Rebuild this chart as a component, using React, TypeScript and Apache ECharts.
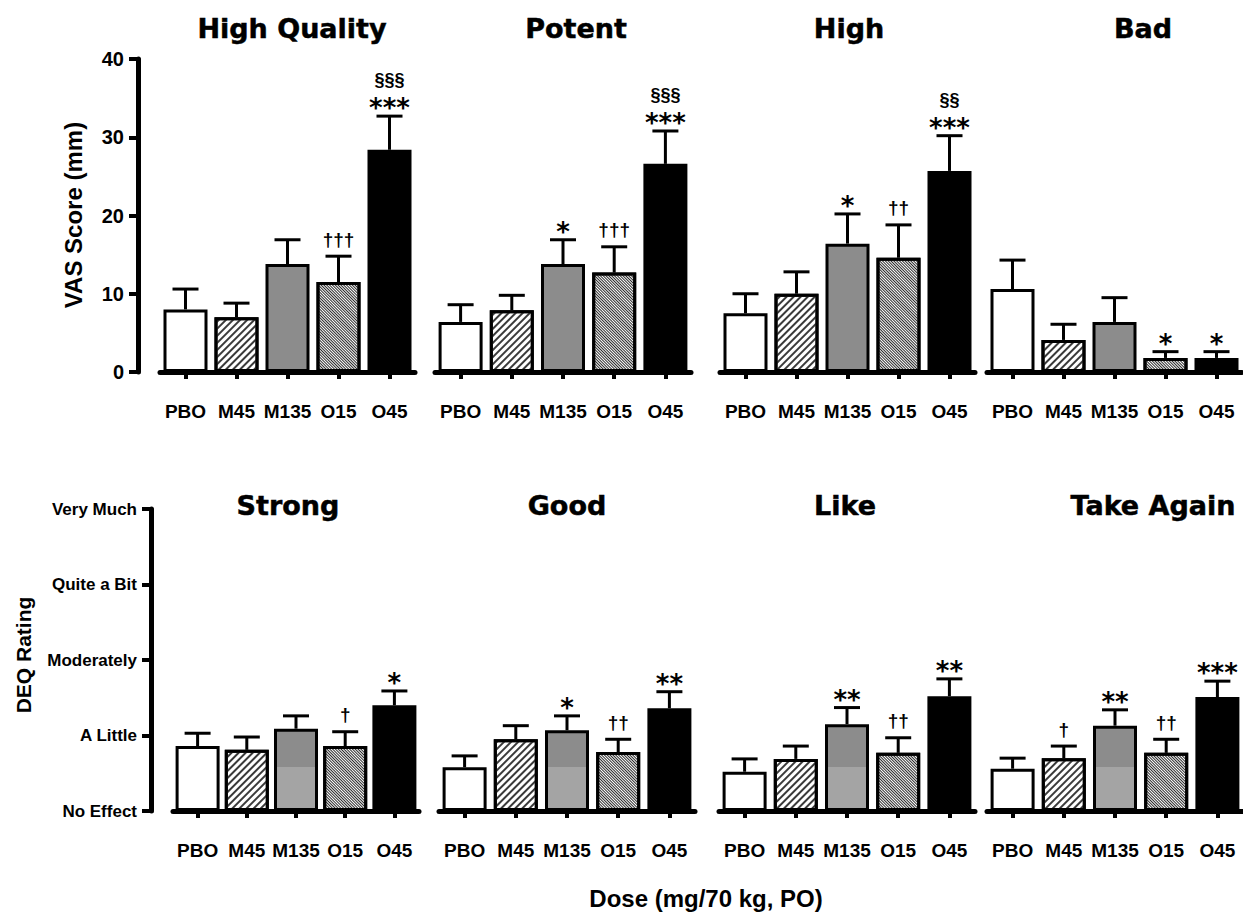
import React, { useEffect, useRef } from 'react';
import * as echarts from 'echarts';

const categories = ['PBO', 'M45', 'M135', 'O15', 'O45'];

const vasTicks = [0, 10, 20, 30, 40];
const deqTickLabels = ['No Effect', 'A Little', 'Moderately', 'Quite a Bit', 'Very Much'];

const highQualityMean = [8.0, 7.0, 13.8, 11.5, 28.4];
const highQualitySem = [2.6, 1.8, 3.1, 3.3, 4.3];
const highQualityMarks = ['', '', '', '†††', '***'];
const highQualitySections = ['', '', '', '', '§§§'];

const potentMean = [6.4, 7.9, 13.8, 12.7, 26.6];
const potentSem = [2.2, 1.9, 3.1, 3.3, 4.2];
const potentMarks = ['', '', '*', '†††', '***'];
const potentSections = ['', '', '', '', '§§§'];

const highMean = [7.5, 10.0, 16.4, 14.6, 25.7];
const highSem = [2.5, 2.8, 3.8, 4.2, 4.5];
const highMarks = ['', '', '*', '††', '***'];
const highSections = ['', '', '', '', '§§'];

const badMean = [10.6, 4.1, 6.4, 1.8, 1.8];
const badSem = [3.7, 2.0, 3.1, 0.8, 0.8];
const badMarks = ['', '', '', '*', '*'];
const badSections = ['', '', '', '', ''];

const strongMean = [0.86, 0.81, 1.09, 0.86, 1.40];
const strongSem = [0.17, 0.17, 0.17, 0.19, 0.19];
const strongMarks = ['', '', '', '†', '*'];

const goodMean = [0.58, 0.95, 1.07, 0.78, 1.36];
const goodSem = [0.15, 0.18, 0.19, 0.17, 0.22];
const goodMarks = ['', '', '*', '††', '**'];

const likeMean = [0.52, 0.69, 1.15, 0.77, 1.52];
const likeSem = [0.17, 0.17, 0.22, 0.20, 0.23];
const likeMarks = ['', '', '**', '††', '**'];

const takeAgainMean = [0.56, 0.70, 1.13, 0.77, 1.51];
const takeAgainSem = [0.14, 0.16, 0.21, 0.18, 0.21];
const takeAgainMarks = ['', '†', '**', '††', '***'];

const emptyMarks = ['', '', '', '', ''];

type Panel = {
  title: string;
  mean: number[];
  sem: number[];
  marks: string[];
  sections: string[];
  row: 0 | 1;
};

const panels: Panel[] = [
  { title: 'High Quality', mean: highQualityMean, sem: highQualitySem, marks: highQualityMarks, sections: highQualitySections, row: 0 },
  { title: 'Potent', mean: potentMean, sem: potentSem, marks: potentMarks, sections: potentSections, row: 0 },
  { title: 'High', mean: highMean, sem: highSem, marks: highMarks, sections: highSections, row: 0 },
  { title: 'Bad', mean: badMean, sem: badSem, marks: badMarks, sections: badSections, row: 0 },
  { title: 'Strong', mean: strongMean, sem: strongSem, marks: strongMarks, sections: emptyMarks, row: 1 },
  { title: 'Good', mean: goodMean, sem: goodSem, marks: goodMarks, sections: emptyMarks, row: 1 },
  { title: 'Like', mean: likeMean, sem: likeSem, marks: likeMarks, sections: emptyMarks, row: 1 },
  { title: 'Take Again', mean: takeAgainMean, sem: takeAgainSem, marks: takeAgainMarks, sections: emptyMarks, row: 1 },
];

// layout (pixels)
const gridBoxes = [
  { left: 160, width: 255 },
  { left: 435, width: 256 },
  { left: 720, width: 255 },
  { left: 987, width: 255 },
  { left: 173, width: 246 },
  { left: 439, width: 256 },
  { left: 719, width: 256 },
  { left: 987, width: 256 },
];
const rowTop = [59, 509];
const rowHeight = [313, 302];
const titlePos = [
  [292, 28], [576, 28], [849, 28], [1143, 28],
  [288, 505], [567, 505], [845, 505], [1153, 505],
];

const LABEL_FONT = '"Liberation Sans", Arial, sans-serif';
const TITLE_FONT = '"DejaVu Sans", sans-serif';

const m45Decal = {
  symbol: 'rect',
  symbolSize: 1,
  color: '#3a3a3a',
  dashArrayX: [1, 0],
  dashArrayY: [2, 3],
  rotation: -Math.PI / 4,
};
const o15Decal = {
  symbol: 'rect',
  symbolSize: 1,
  color: '#2a2a2a',
  dashArrayX: [1, 0],
  dashArrayY: [1, 1],
  rotation: Math.PI / 4,
};

function grayFill(row: number) {
  if (row === 0) return '#8c8c8c';
  const cut = 767 / 917;
  return {
    type: 'linear',
    x: 0,
    y: 0,
    x2: 0,
    y2: 917,
    global: true,
    colorStops: [
      { offset: 0, color: '#8c8c8c' },
      { offset: cut, color: '#8c8c8c' },
      { offset: cut, color: '#a4a4a4' },
      { offset: 1, color: '#a4a4a4' },
    ],
  };
}

function barItemStyle(i: number, row: number) {
  const base = { borderColor: '#000', borderWidth: 3 };
  if (i === 0) return { ...base, color: '#fff' };
  if (i === 1) return { ...base, color: '#fff', decal: m45Decal };
  if (i === 2) return { ...base, color: grayFill(row) };
  if (i === 3) return { ...base, color: '#fff', decal: o15Decal };
  return { ...base, color: '#000' };
}

export default function App() {
  const ref = useRef<HTMLDivElement>(null);

  useEffect(() => {
    if (!ref.current) return;
    const chart = echarts.init(ref.current, undefined, { renderer: 'svg' });

    const grid = panels.map((p, k) => ({
      left: gridBoxes[k].left,
      width: gridBoxes[k].width,
      top: rowTop[p.row],
      height: rowHeight[p.row],
      containLabel: false,
    }));

    const xAxis = panels.map((p, k) => ({
      type: 'category',
      gridIndex: k,
      data: categories,
      offset: 20,
      axisLine: { show: true, lineStyle: { color: '#000', width: 5 } },
      axisTick: { show: true, alignWithLabel: true, length: 7, lineStyle: { color: '#000', width: 4 } },
      axisLabel: {
        margin: 10,
        color: '#000',
        fontSize: 19,
        fontWeight: 'bold',
        fontFamily: LABEL_FONT,
        interval: 0,
      },
      splitLine: { show: false },
    }));

    const yAxis = panels.map((p, k) => {
      const showAxis = k === 0 || k === 4;
      if (p.row === 0) {
        return {
          type: 'value',
          gridIndex: k,
          min: vasTicks[0],
          max: vasTicks[vasTicks.length - 1],
          interval: 10,
          show: showAxis,
          offset: 22,
          axisLine: { show: true, lineStyle: { color: '#000', width: 5 } },
          axisTick: { show: true, length: 9, lineStyle: { color: '#000', width: 4 } },
          axisLabel: {
            margin: 14,
            color: '#000',
            fontSize: 20,
            fontWeight: 'bold',
            fontFamily: LABEL_FONT,
          },
          splitLine: { show: false },
        };
      }
      return {
        type: 'value',
        gridIndex: k,
        min: 0,
        max: deqTickLabels.length - 1,
        interval: 1,
        show: showAxis,
        offset: 22,
        axisLine: { show: true, lineStyle: { color: '#000', width: 5 } },
        axisTick: { show: true, length: 9, lineStyle: { color: '#000', width: 4 } },
        axisLabel: {
          margin: 14,
          color: '#000',
          fontSize: 17,
          fontWeight: 'bold',
          fontFamily: LABEL_FONT,
          formatter: (v: number) => deqTickLabels[Math.round(v)] ?? '',
        },
        splitLine: { show: false },
      };
    });

    const series: any[] = [];
    panels.forEach((p, k) => {
      series.push({
        type: 'bar',
        xAxisIndex: k,
        yAxisIndex: k,
        barWidth: 44,
        z: 2,
        data: p.mean.map((v, i) => ({ value: v, itemStyle: barItemStyle(i, p.row) })),
      });
      series.push({
        type: 'custom',
        xAxisIndex: k,
        yAxisIndex: k,
        z: 5,
        data: p.mean.map((v, i) => [i, v, p.sem[i]]),
        renderItem: (params: any, api: any) => {
          const idx = params.dataIndex;
          const i = api.value(0);
          const m = api.value(1);
          const s = api.value(2);
          const b = api.coord([i, m]);
          const t = api.coord([i, m + s]);
          const children: any[] = [
            { type: 'line', shape: { x1: b[0], y1: b[1], x2: t[0], y2: t[1] }, style: { stroke: '#000', lineWidth: 3 } },
            { type: 'line', shape: { x1: t[0] - 13, y1: t[1], x2: t[0] + 13, y2: t[1] }, style: { stroke: '#000', lineWidth: 3 } },
          ];
          const mark = p.marks[idx];
          if (mark) {
            const isStar = mark.indexOf('*') >= 0;
            children.push({
              type: 'text',
              x: t[0],
              y: isStar ? t[1] - 8 : t[1] - 17,
              style: {
                text: mark,
                fill: '#000',
                fontSize: isStar ? 26 : 19,
                fontWeight: 'bold',
                fontFamily: isStar ? TITLE_FONT : LABEL_FONT,
                align: 'center',
                verticalAlign: 'middle',
              },
            });
          }
          const sec = p.sections[idx];
          if (sec) {
            children.push({
              type: 'text',
              x: t[0],
              y: t[1] - 36,
              style: {
                text: sec,
                fill: '#000',
                fontSize: 18,
                fontWeight: 'bold',
                fontFamily: LABEL_FONT,
                align: 'center',
                verticalAlign: 'middle',
              },
            });
          }
          return { type: 'group', children };
        },
      });
    });

    const graphic: any[] = panels.map((p, k) => ({
      type: 'text',
      x: titlePos[k][0],
      y: titlePos[k][1],
      style: {
        text: p.title,
        fill: '#000',
        fontSize: 27,
        fontWeight: 'bold',
        fontFamily: TITLE_FONT,
        align: 'center',
        verticalAlign: 'middle',
        stroke: '#000',
        lineWidth: 0.5,
      },
    }));
    graphic.push({
      type: 'text',
      x: 73,
      y: 215,
      rotation: Math.PI / 2,
      style: {
        text: 'VAS Score (mm)',
        fill: '#000',
        fontSize: 24,
        fontWeight: 'bold',
        fontFamily: LABEL_FONT,
        align: 'center',
        verticalAlign: 'middle',
      },
    });
    graphic.push({
      type: 'text',
      x: 23,
      y: 655,
      rotation: Math.PI / 2,
      style: {
        text: 'DEQ Rating',
        fill: '#000',
        fontSize: 21,
        fontWeight: 'bold',
        fontFamily: LABEL_FONT,
        align: 'center',
        verticalAlign: 'middle',
      },
    });
    graphic.push({
      type: 'text',
      x: 706,
      y: 898,
      style: {
        text: 'Dose (mg/70 kg, PO)',
        fill: '#000',
        fontSize: 24,
        fontWeight: 'bold',
        fontFamily: LABEL_FONT,
        align: 'center',
        verticalAlign: 'middle',
      },
    });

    chart.setOption({
      animation: false,
      backgroundColor: '#fff',
      grid,
      xAxis,
      yAxis,
      series,
      graphic,
    });

    return () => {
      chart.dispose();
    };
  }, []);

  return (
    <div
      ref={ref}
      style={{ position: 'absolute', left: 0, top: 0, width: 1243, height: 917, background: '#fff' }}
    />
  );
}
